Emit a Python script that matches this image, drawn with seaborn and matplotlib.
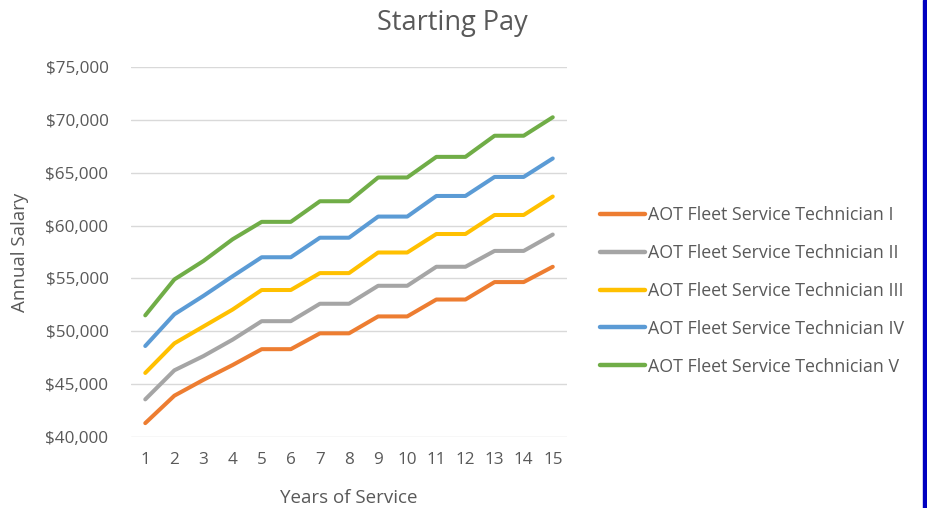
import pandas as pd
import matplotlib
matplotlib.use("Agg")
from matplotlib import pyplot as plt
from matplotlib.ticker import FuncFormatter
from matplotlib.patches import Rectangle
import seaborn as sns

years = list(range(1, 16))
series_names = [
    "AOT Fleet Service Technician I",
    "AOT Fleet Service Technician II",
    "AOT Fleet Service Technician III",
    "AOT Fleet Service Technician IV",
    "AOT Fleet Service Technician V",
]
tech_1 = [41300, 43900, 45400, 46800, 48300, 48300, 49800, 49800, 51400, 51400,
          53000, 53000, 54650, 54650, 56100]
tech_2 = [43550, 46300, 47650, 49200, 50950, 50950, 52600, 52600, 54300, 54300,
          56100, 56100, 57600, 57600, 59150]
tech_3 = [46050, 48850, 50450, 52050, 53900, 53900, 55500, 55500, 57450, 57450,
          59200, 59200, 61000, 61000, 62750]
tech_4 = [48600, 51600, 53350, 55200, 57000, 57000, 58850, 58850, 60850, 60850,
          62800, 62800, 64600, 64600, 66350]
tech_5 = [51500, 54900, 56650, 58700, 60350, 60350, 62300, 62300, 64550, 64550,
          66500, 66500, 68500, 68500, 70250]
colors = ["#ED7D31", "#A5A5A5", "#FFC000", "#5B9BD5", "#70AD47"]

rows = []
for name, vals in zip(series_names, [tech_1, tech_2, tech_3, tech_4, tech_5]):
    for y, v in zip(years, vals):
        rows.append({"year": y, "salary": v, "series": name})
df = pd.DataFrame(rows)

sns.set_theme(style="white")
plt.rcParams["font.family"] = ["Open Sans", "DejaVu Sans"]
text_color = "#595959"

fig = plt.figure(figsize=(9.27, 5.08), dpi=100)
ax = fig.add_axes([0.141, 0.140, 0.471, 0.728])

sns.lineplot(data=df, x="year", y="salary", hue="series", hue_order=series_names,
             palette=colors, linewidth=2.9, ax=ax, legend=True)

ax.set_xlim(0.5, 15.5)
ax.set_ylim(40000, 75000)
ax.set_xticks(years)
ax.set_yticks(range(40000, 75001, 5000))
ax.yaxis.set_major_formatter(FuncFormatter(lambda v, p: f"${v:,.0f}"))
ax.grid(axis="y", color="#D9D9D9", linewidth=1)
ax.set_axisbelow(True)
for s in ax.spines.values():
    s.set_visible(False)
ax.tick_params(axis="both", length=0, labelsize=12.3, colors=text_color)
ax.tick_params(axis="y", pad=16)
ax.tick_params(axis="x", pad=11)
ax.set_xlabel("Years of Service", fontsize=13.5, color=text_color, labelpad=15)
ax.set_ylabel("Annual Salary", fontsize=13.5, color=text_color, labelpad=12)

leg = ax.legend(loc="center left", bbox_to_anchor=(1.075, 0.395), frameon=False,
                fontsize=12.8, labelspacing=1.12, handlelength=2.5, handletextpad=0.18,
                borderpad=0, borderaxespad=0)
for t in leg.get_texts():
    t.set_color(text_color)
for line in leg.get_lines():
    line.set_linewidth(3.2)

fig.text(0.488, 0.955, "Starting Pay", ha="center", va="center",
         fontsize=19.5, color=text_color)

fig.patches.append(Rectangle((0.9957, 0), 0.0043, 1, transform=fig.transFigure,
                             color="#0000C0", zorder=5))

fig.savefig("out.png", dpi=100)
